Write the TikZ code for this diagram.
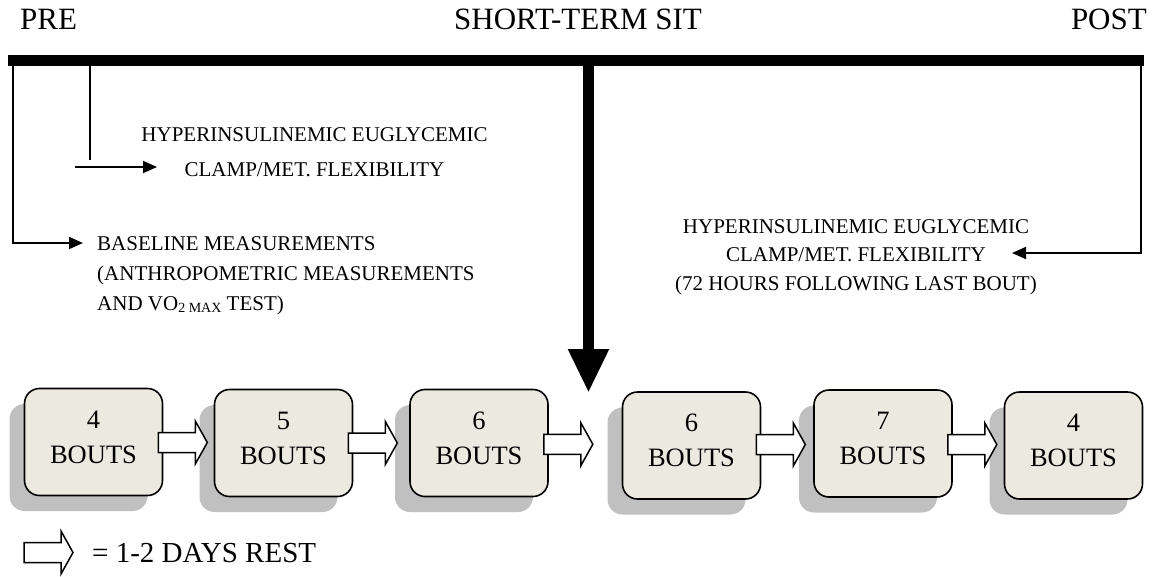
\documentclass[tikz,border=0pt]{standalone}
\usepackage{fontspec}
\setmainfont{Liberation Serif}
\usetikzlibrary{arrows.meta,shadows,calc}
\definecolor{boxfill}{RGB}{236,234,224}
\definecolor{shadowgray}{RGB}{192,192,192}

% hollow block arrow starting at a coordinate (tail centre), pointing right
\newcommand\blockarrow[1]{%
  \draw[restarrow] (#1) ++(0pt,10pt) -- ++(37pt,0pt) -- ++(0pt,11.5pt)
    -- ++(12pt,-21.5pt) -- ++(-12pt,-21.5pt) -- ++(0pt,11.5pt)
    -- ++(-37pt,0pt) -- cycle;}
% rest link between two bout boxes
\newcommand\restlink[2]{%
  \path let \p1=(#1.east), \p2=(#2.west) in
    coordinate (#1-#2) at (\x1-5pt,{0.5*\y1+0.5*\y2});
  \blockarrow{#1-#2}}

\begin{document}
\begin{tikzpicture}[x=1pt,y=-1pt,
  timebar/.style={fill=black,draw=none,minimum width=1136pt,minimum height=11.5pt,inner sep=0pt},
  hdr/.style={font=\fontsize{31}{31}\selectfont,inner sep=0pt},
  conn/.style={line width=1.8pt,-{Triangle[length=14pt 0 0,width=12pt 0 0]}},
  feed/.style={line width=1.8pt},
  mainarrow/.style={line width=11pt,-{Triangle[length=44pt 0 0,width=38pt 0 0]}},
  boutbox/.style={draw=black,line width=1.6pt,fill=boxfill,rounded corners=15pt,
    minimum width=138pt,minimum height=107pt,inner sep=0pt,
    drop shadow={shadow xshift=-15pt,shadow yshift=-15.5pt,fill=shadowgray,opacity=1}},
  bouttext/.style={font=\fontsize{26.5}{35}\selectfont,align=center,inner sep=0pt,yshift=5pt},
  restarrow/.style={draw=black,line width=1.5pt,fill=white,line join=miter},
]
\useasboundingbox (0,0) rectangle (1157,576);

% period headings
\node[hdr,anchor=base west] (pre) at (20,29) {PRE};
\node[hdr,anchor=base] (sit) at (578,29) {SHORT-TERM SIT};
\node[hdr,anchor=base east] (post) at (1147,29) {POST};

% timeline
\node[timebar] (bar) at (576,60.25) {};

% measurement notes
\node[font=\fontsize{21}{35}\selectfont,align=center,inner sep=0pt,anchor=north]
  (clampPre) at (314.5,127) {HYPERINSULINEMIC EUGLYCEMIC\\CLAMP/MET. FLEXIBILITY};
\node[font=\fontsize{21}{30}\selectfont,align=left,inner sep=0pt,anchor=north west]
  (baseline) at (97,236) {BASELINE MEASUREMENTS\\(ANTHROPOMETRIC MEASUREMENTS\\
  AND VO\raisebox{-2pt}{\fontsize{14}{14}\selectfont 2 MAX} TEST)};
\node[font=\fontsize{21}{28.5}\selectfont,align=center,inner sep=0pt,anchor=north]
  (clampPost) at (856,219) {HYPERINSULINEMIC EUGLYCEMIC\\CLAMP/MET. FLEXIBILITY\\
  (72 HOURS FOLLOWING LAST BOUT)};

% connectors from the timeline
\coordinate (baseCorner) at (13,243);
\coordinate (baseTip) at (83,243);
\draw[conn] (bar.center -| baseCorner) |- (baseTip);

\coordinate (clampStem) at (90,160);
\coordinate (clampTail) at (75,167);
\coordinate (clampTip) at (157,167);
\draw[feed] (bar.center -| clampStem) -- (clampStem);
\draw[conn] (clampTail) -- (clampTip);

\coordinate (postCorner) at (1141,253);
\coordinate (postTip) at (1012,253);
\draw[conn] (bar.center -| postCorner) |- (postTip);

\coordinate (sitTip) at (588.5,393);
\draw[mainarrow] (bar.center -| sitTip) -- (sitTip);

% exercise bouts
\node[boutbox,label={[bouttext]center:{4\\BOUTS}}] (b1) at (93.5,442) {};
\node[boutbox,label={[bouttext]center:{5\\BOUTS}}] (b2) at (283.5,443) {};
\node[boutbox,label={[bouttext]center:{6\\BOUTS}}] (b3) at (479,443) {};
\node[boutbox,label={[bouttext]center:{6\\BOUTS}}] (b4) at (691.5,445.5) {};
\node[boutbox,label={[bouttext]center:{7\\BOUTS}}] (b5) at (883,443.5) {};
\node[boutbox,label={[bouttext]center:{4\\BOUTS}}] (b6) at (1073.5,445.5) {};

% rest days between bouts
\restlink{b1}{b2}
\restlink{b2}{b3}
\restlink{b3}{b4}
\restlink{b4}{b5}
\restlink{b5}{b6}

% legend
\coordinate (legendTail) at (24,552.5);
\blockarrow{legendTail}
\node[font=\fontsize{29}{29}\selectfont,inner sep=0pt,anchor=base west] (legend) at (92,562) {= 1-2 DAYS REST};
\end{tikzpicture}
\end{document}
